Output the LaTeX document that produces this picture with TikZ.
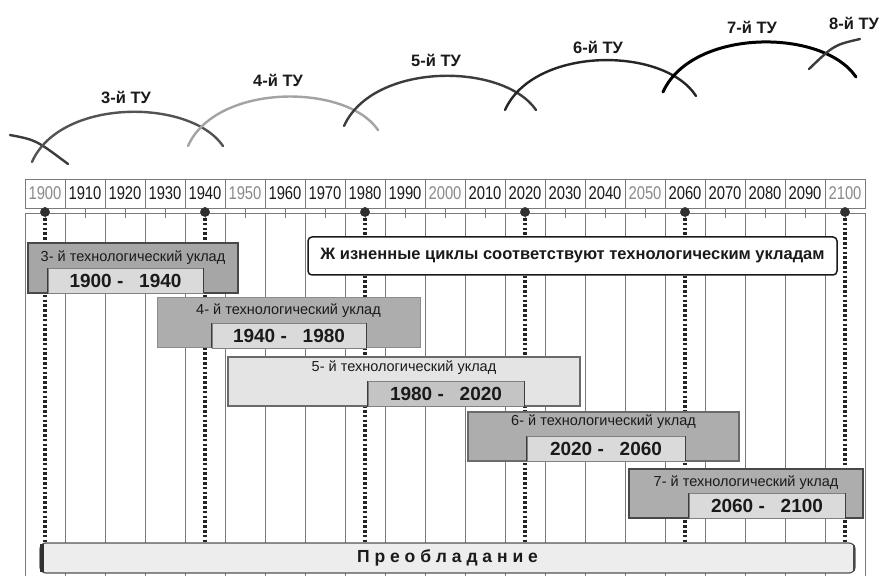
\documentclass[tikz,border=0pt]{standalone}
\usepackage{fontspec}
\setmainfont{Liberation Sans}
\newfontfamily\narrowfont[FakeStretch=0.8]{Liberation Sans}
\usetikzlibrary{positioning}
\definecolor{ink}{HTML}{1A1A1A}
\definecolor{yeargray}{HTML}{8A8A8A}
\definecolor{rule}{HTML}{7A7A7A}
\definecolor{eradark}{HTML}{A6A6A6}
\definecolor{eramid}{HTML}{ADADAD}
\definecolor{eralight}{HTML}{E4E4E4}
\definecolor{spanfill}{HTML}{DADADA}
\definecolor{barfill}{HTML}{EDEDED}

\begin{document}
\begin{tikzpicture}[x=1pt,y=1pt,font=\fontsize{14.5}{17}\selectfont,text=ink,
  yearcell/.style={draw=rule,minimum width=40,minimum height=29,inner sep=0pt,
    font=\narrowfont\fontsize{18.5}{20}\selectfont},
  gridline/.style={draw=rule,line width=.8pt},
  tick/.style={draw=rule,line width=.8pt},
  epoch/.style={circle,fill=ink!90,minimum size=9.5,inner sep=0pt},
  epochline/.style={draw=ink!95,line width=3.2pt,dash pattern=on 2.6pt off 2.2pt},
  era/.style={draw=ink!80,line width=1.2pt,inner sep=0pt},
  eratitle/.style={font=\fontsize{14.5}{17}\selectfont},
  span/.style={draw=ink!55,line width=.9pt,fill=spanfill,inner sep=0pt,minimum height=25,
    font=\bfseries\fontsize{19}{22}\selectfont},
  spanedge/.style={draw=ink!85,line width=1.8pt},
  cycle/.style={line width=2.4pt,line cap=round},
  tulabel/.style={font=\bfseries\fontsize{16.5}{19}\selectfont},
  note/.style={draw=ink,line width=1.5pt,rounded corners=4pt,fill=white,
    minimum width=529,minimum height=38,font=\bfseries\fontsize{16.5}{19}\selectfont},
  barbox/.style={draw=ink!75,line width=1.2pt,rounded corners=6pt,fill=barfill,
    font=\bfseries\fontsize{17.5}{20}\selectfont}]

\useasboundingbox (0,0) rectangle (883,576);
\fill[white] (0,0) rectangle (883,576);

% grid of decades
\foreach \i in {0,...,21}{\draw[gridline] (25+40*\i,363)--(25+40*\i,0);}
\draw[gridline] (25,363)--(865,363);

% bar at the bottom
\node[barbox,minimum width=815,minimum height=30] (prev) at (447.5,18) {П р е о б л а д а н и е};
\draw[ink!90,line width=3.5pt] ([xshift=2.5pt,yshift=2pt]prev.south west)--([xshift=2.5pt,yshift=-2pt]prev.north west);
\draw[ink!80,line width=2pt] ([xshift=-1.5pt,yshift=3pt]prev.south east)--([xshift=-1.5pt,yshift=-3pt]prev.north east);

% epoch marks and dotted lines
\foreach \yr [count=\k from 0] in {1900,1940,1980,2020,2060,2100}{
  \node[epoch] (d\yr) at (45+160*\k,364) {};
  \draw[epochline] ([yshift=-6pt]d\yr.center)--(d\yr.center |- prev.north);
}

% technological modes
\node[era,fill=eradark,line width=2pt,minimum width=210,minimum height=50] (u3) at (133,308) {};
\node[eratitle] at (133,318) {3- й технологический уклад};
\node[span,minimum width=155] (p3) at (125.5,295.5) {1900 -\ \ \ 1940};
\draw[spanedge] (p3.south west)--(p3.north west) (p3.south east)--(p3.north east);

\node[era,fill=eramid,draw=ink!50,line width=1pt,minimum width=263,minimum height=50] (u4) at (288.5,253) {};
\node[eratitle] at (288.5,265) {4- й технологический уклад};
\node[span,minimum width=154] (p4) at (289,240.5) {1940 -\ \ \ 1980};
\draw[spanedge] (p4.south west)--(p4.north west) (p4.south east)--(p4.north east);

\node[era,fill=eralight,draw=ink!65,minimum width=352,minimum height=49] (u5) at (404,194.5) {};
\node[eratitle] at (404,208) {5- й технологический уклад};
\node[span,fill=spanfill!90!black,minimum width=156] (p5) at (446,182) {1980 -\ \ \ 2020};
\draw[spanedge] (p5.south west)--(p5.north west) (p5.south east)--(p5.north east);

\node[era,fill=eramid,draw=ink!65,minimum width=271,minimum height=49] (u6) at (603.5,139.5) {};
\node[eratitle] at (603.5,154) {6- й технологический уклад};
\node[span,minimum width=158] (p6) at (606,127.5) {2020 -\ \ \ 2060};
\draw[spanedge] (p6.south west)--(p6.north west) (p6.south east)--(p6.north east);

\node[era,fill=eramid,line width=1.5pt,minimum width=234,minimum height=49] (u7) at (746,82.5) {};
\node[eratitle] at (746,93) {7- й технологический уклад};
\node[span,minimum width=156] (p7) at (767,70) {2060 -\ \ \ 2100};
\draw[spanedge] (p7.south west)--(p7.north west) (p7.south east)--(p7.north east);

% note
\node[note] (cycles) at (572.5,320) {Ж изненные циклы соответствуют технологическим укладам};

% decade labels
\foreach \i in {0,...,20}{
  \pgfmathtruncatemacro{\yr}{1900+10*\i}
  \pgfmathtruncatemacro{\half}{mod(\i,5)}
  \ifnum\half=0
    \node[yearcell,text=yeargray] (y\yr) at (45+40*\i,382.5) {\yr};
  \else
    \node[yearcell] (y\yr) at (45+40*\i,382.5) {\yr};
  \fi
  \draw[tick] (y\yr.south)--++(0,-10);
}
\foreach \yr in {1900,1940,1980,2020,2060,2100}{\node[epoch] at (d\yr) {};}

% life cycles
\draw[cycle,ink!85] (10,441) .. controls (36,436) .. (68,412);
\draw[cycle,ink!75] (32,414) .. controls (60,478) and (190,478) .. (223,430);
\draw[cycle,ink!40] (188,430) .. controls (216,493) and (346,493) .. (378,446);
\draw[cycle,ink!85] (344,450) .. controls (373,514) and (503,514) .. (536,466);
\draw[cycle,ink!95] (505,466) .. controls (534,530) and (664,530) .. (696,480);
\draw[cycle,black,line width=3pt] (663,484) .. controls (692,548) and (823,548) .. (856,499);
\draw[cycle,ink!85] (809,507) .. controls (834,531) .. (860,537);

\node[tulabel] (tu3) at (126,479) {3-й ТУ};
\node[tulabel] (tu4) at (278,496) {4-й ТУ};
\node[tulabel] (tu5) at (436,516) {5-й ТУ};
\node[tulabel] (tu6) at (598,529) {6-й ТУ};
\node[tulabel] (tu7) at (752,549) {7-й ТУ};
\node[tulabel] (tu8) at (854,553) {8-й ТУ};

\end{tikzpicture}
\end{document}
